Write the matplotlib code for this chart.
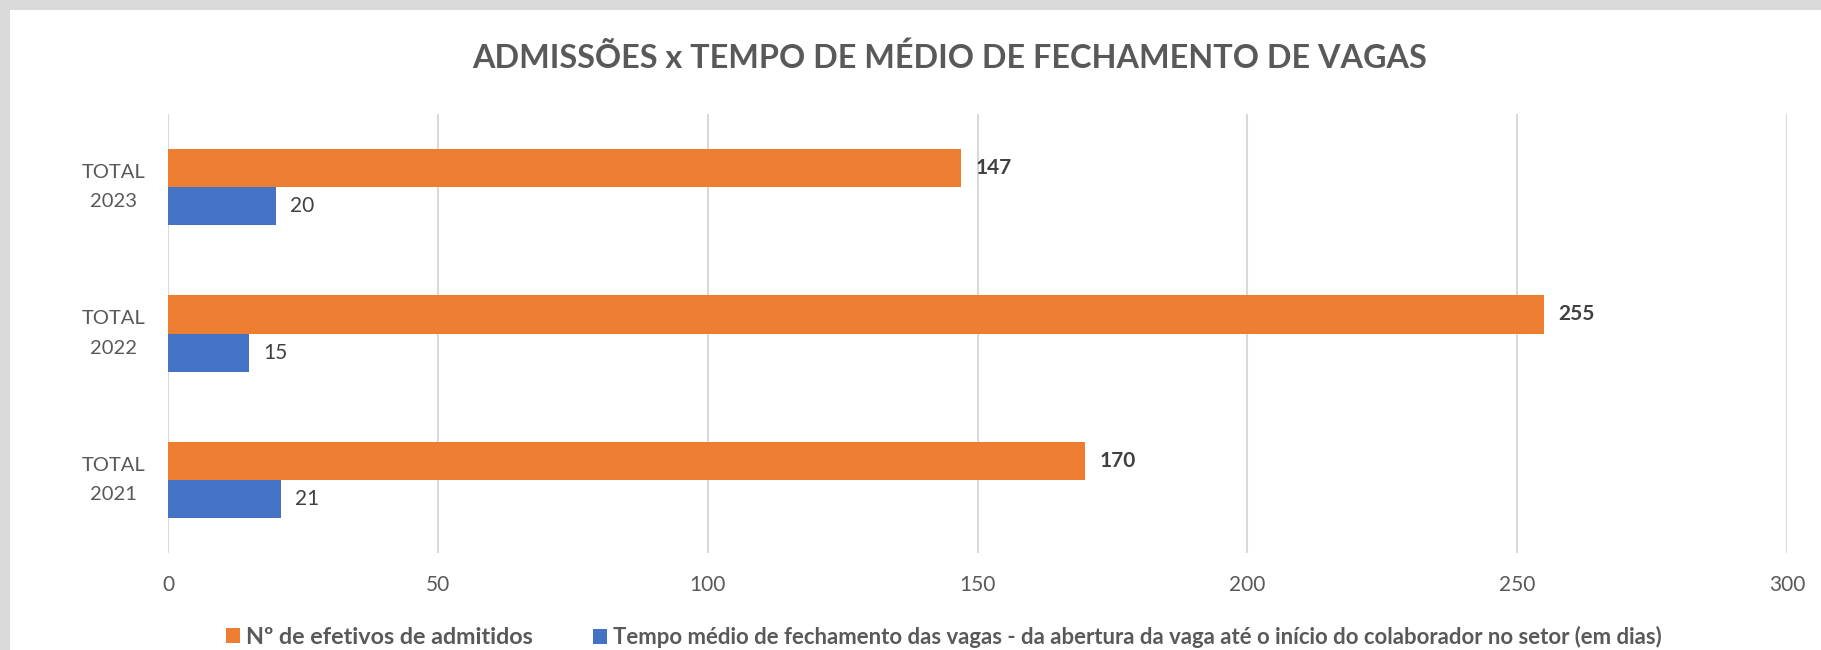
import matplotlib
matplotlib.use("Agg")
import matplotlib.pyplot as plt
from matplotlib.patches import Patch, Rectangle
import numpy as np

categories = ["TOTAL\n2021", "TOTAL\n2022", "TOTAL\n2023"]
admitidos = [170, 255, 147]
tempo_medio = [21, 15, 20]
series_names = ["Nº de efetivos de admitidos",
                "Tempo médio de fechamento das vagas - da abertura da vaga até o início do colaborador no setor (em dias)"]
x_ticks = [0, 50, 100, 150, 200, 250, 300]
title = "ADMISSÕES x TEMPO DE MÉDIO DE FECHAMENTO DE VAGAS"

ORANGE = "#ED7D31"
BLUE = "#4472C4"
GRAY_TXT = "#595959"
LABEL_TXT = "#404040"
FONT = ["Lato", "DejaVu Sans"]

W, H = 1821, 650
fig = plt.figure(figsize=(W / 100, H / 100), dpi=100)
fig.patch.set_facecolor("white")

# gray frame (top and left strips)
fig.patches.append(Rectangle((0, 1 - 10 / H), 1, 10 / H, transform=fig.transFigure,
                             facecolor="#DADADA", edgecolor="none", zorder=0))
fig.patches.append(Rectangle((0, 0), 10 / W, 1, transform=fig.transFigure,
                             facecolor="#DADADA", edgecolor="none", zorder=0))

left, right, top, bottom = 168, 1787, 114, 553
ax = fig.add_axes([left / W, 1 - bottom / H, (right - left) / W, (bottom - top) / H])

y = np.arange(len(categories))
h = 0.26
b1 = ax.barh(y + h / 2, admitidos, height=h, color=ORANGE, label=series_names[0], zorder=3)
b2 = ax.barh(y - h / 2, tempo_medio, height=h, color=BLUE, label=series_names[1], zorder=3)

ax.bar_label(b1, padding=10, fontsize=15, fontweight="bold", color=LABEL_TXT, family=FONT)
ax.bar_label(b2, padding=10, fontsize=15, color=LABEL_TXT, family=FONT)

ax.set_xlim(0, 300)
ax.set_ylim(-0.5, len(categories) - 0.5)
ax.set_xticks(x_ticks)
ax.set_xticklabels([str(v) for v in x_ticks], fontsize=15, color=GRAY_TXT, family=FONT)
ax.set_yticks(y)
ax.set_yticklabels(categories, fontsize=14.5, color=GRAY_TXT, family=FONT, ha="center",
                   va="center", multialignment="center", linespacing=1.9)
ax.tick_params(axis="x", length=0, pad=16)
ax.tick_params(axis="y", length=0, pad=39)
ax.grid(axis="x", color="#D9D9D9", linewidth=1.5, zorder=0)
ax.grid(axis="y", visible=False)
for s in ax.spines.values():
    s.set_visible(False)

fig.text(950 / W, 1 - 58 / H, title, ha="center", va="center", fontsize=23.3,
         fontweight="bold", color=GRAY_TXT, family=FONT)

# legend: one entry per legend box, placed at the reference marker positions
leg_specs = [(b1, series_names[0], 226, 16.8), (b2, series_names[1], 593, 15.9)]
for handle, name, x_px, size in leg_specs:
    hl = 14 / (size * 100 / 72)
    leg = fig.legend([Patch(facecolor=handle.patches[0].get_facecolor())], [name],
                     loc="center left", bbox_to_anchor=(x_px / W, 1 - 637 / H),
                     frameon=False, borderpad=0, borderaxespad=0,
                     handlelength=hl, handleheight=hl, handletextpad=0.25,
                     prop={"family": FONT, "weight": "bold", "size": size})
    for t in leg.get_texts():
        t.set_color(GRAY_TXT)

fig.savefig("out.png", dpi=100)
